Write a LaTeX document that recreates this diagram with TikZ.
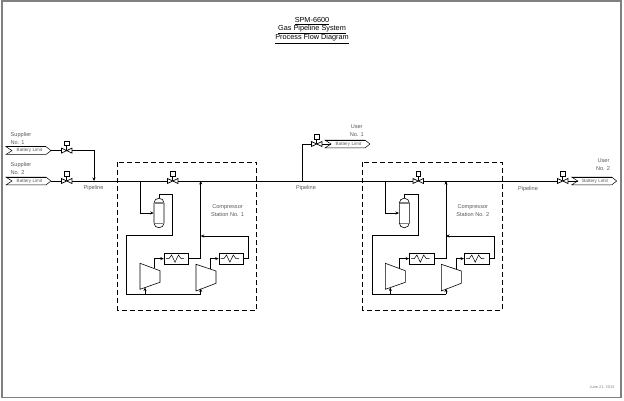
\documentclass[tikz,border=0pt]{standalone}
\usepackage{fontspec}
\setmainfont{Liberation Sans}
\usetikzlibrary{arrows.meta,calc}
\definecolor{lab}{gray}{0.35}
\tikzset{
 x=1pt,y=-1pt,
 pipe/.style={line width=0.7pt,black},
 flow/.style={pipe,-{Stealth[length=3.5pt,width=3pt]}},
 lbl/.style={font=\fontsize{5.6}{6}\selectfont,text=lab,inner sep=0pt,align=center},
 lblL/.style={lbl,anchor=west},
 tag/.style={font=\fontsize{4.6}{5}\selectfont,text=lab,inner sep=0pt},
 ttl/.style={font=\fontsize{7.3}{8}\selectfont,inner sep=0pt},
 hxbox/.style={draw,line width=0.7pt,minimum width=24.5pt,minimum height=10.5pt,inner sep=0pt},
 drum/.style={draw,line width=0.6pt,rounded corners=4.8pt,minimum width=10pt,minimum height=29.5pt,inner sep=0pt},
 actu/.style={draw,line width=0.5pt,minimum width=4.5pt,minimum height=4.5pt,inner sep=0pt},
 stationbox/.style={draw,line width=0.7pt,dash pattern=on 5pt off 3pt},
}
% valve: #1 name, #2 position
\newcommand{\vlv}[2]{%
 \coordinate (#1) at (#2);
 \coordinate (#1w) at ($(#1)+(-5.3,0)$);
 \coordinate (#1e) at ($(#1)+(5.3,0)$);
 \node[actu] (#1a) at ($(#1)+(0,-7.2)$) {};
 \draw[line width=0.5pt] (#1a.south) -- (#1);
 \filldraw[fill=white,line width=0.7pt] (#1w)++(0,-2.5) -- ++(10.6,5) -- ++(0,-5) -- ++(-10.6,5) -- cycle;
}
% battery-limit tag: #1 name, #2 left x, #3 centre y
\newcommand{\bltag}[3]{%
 \node[tag] (#1) at ($(#2,#3)+(23.5,0)$) {Battery Limit};
 \coordinate (#1w) at (#2+6,#3);
 \coordinate (#1e) at (#2+45,#3);
 \draw[line width=0.5pt] (#2,#3-3.9) -- (#2+40,#3-3.9) -- (#1e) -- (#2+40,#3+3.9) -- (#2,#3+3.9) -- (#1w) -- cycle;
 \draw[line width=1pt] (#2,#3-3.9) -- (#2+40,#3-3.9);
}
% compressor outline: #1 left x, #2 top-left y, #3 bottom-left y, #4 top-right y, #5 bottom-right y
\newcommand{\comp}[5]{%
 \draw[line width=0.6pt] (#1,#2) -- (#1+20,#4) -- (#1+20,#5) -- (#1,#3) -- cycle;
}
\newcommand{\hxz}[1]{%
 \draw[line width=0.5pt] ($(#1.west)+(2,0)$) -- ++(3.2,0) -- ++(2.6,-3.6) -- ++(3.4,7.2) -- ++(3.4,-7.2) -- ++(2.6,3.6) -- ++(3.2,0);
}
% compressor station at x offset #2
\newcommand{\station}[3]{%
 \begin{scope}[shift={(#2,0)}]
 \draw[stationbox] (117.3,162.3) rectangle (256.7,310);
 \node[drum] (#1v) at (159,213) {};
 \draw[line width=1.2pt,gray] (154.5,203) -- (163.5,203) (154.5,223.5) -- (163.5,223.5);
 \node[hxbox] (#1h) at (176.4,258.6) {};
 \node[hxbox] (#1k) at (231.3,258.6) {};
 \hxz{#1h}\hxz{#1k}
 \comp{140}{263.3}{289.3}{270.7}{282.3}
 \comp{196}{264.3}{291}{271}{283.3}
 \coordinate (#1m) at (140,181);
 \coordinate (#1n) at (200.7,181);
 \coordinate (#1p) at (200.7,236);
 \coordinate (#1i) at (145,287.5);
 \coordinate (#1j) at (200.7,288.5);
 \coordinate (#1q) at (154.4,268);
 \coordinate (#1r) at (210.7,269);
 \draw[flow] (#1m) |- (#1v.west);
 \draw[pipe] (#1v.north) -- (159,194.3) -- (172.7,194.3) -- (172.7,235.7) -- (126.7,235.7) -- (126.7,294.3) -- (200.7,294.3);
 \draw[flow] (200.7,294.3) -- (#1j);
 \draw[flow] (145,294.3) -- (#1i);
 \draw[flow] (#1q) |- (#1h.west);
 \draw[flow] (#1h.east) -| (#1n);
 \draw[flow] (#1r) |- (#1k.west);
 \draw[flow] (#1k.east) -- (248.7,258.6) |- (#1p);
 \node[lbl] (#1t) at (227.5,210.3) {Compressor\\[1.8pt]Station No. #3};
 \end{scope}
}
\begin{document}
\begin{tikzpicture}
\useasboundingbox (0,0) rectangle (624,401);
\draw[line width=1.8pt,black!50] (2,1) rectangle (621,397.5);
% title
\node[ttl] (t1) at (312,21) {\underline{SPM-6600}};
\node[ttl] (t2) at (312,29.8) {\underline{Gas Pipeline System}};
\node[ttl] (t3) at (312,39) {\underline{Process Flow Diagram}};
% main header
\coordinate (jc) at (94,181);
\coordinate (ub) at (302.3,181);
\bltag{s1}{6}{150.6}
\bltag{s2}{6}{181}
\bltag{u1}{325}{144}
\bltag{u2}{571.7}{181}
\vlv{v1}{66.7,150.6}
\vlv{v2}{66.7,181}
\vlv{v3}{316.7,144}
\vlv{v4}{562.7,181}
\vlv{v5}{172.7,181}
\vlv{v6}{418.2,181}
\draw[pipe] (s1e) -- (v1w);
\draw[flow] (v1e) -| (jc);
\draw[pipe] (s2e) -- (v2w);
\draw[pipe] (v2e) -- (v5w);
\draw[pipe] (v5e) -- (v6w);
\draw[pipe] (v6e) -- (v4w);
\draw[pipe] (ub) |- (v3w);
\draw[pipe] (v3e) -- (u1w);
\draw[pipe] (v4e) -- (u2w);
\station{a}{0}{1}
\station{b}{245.3}{2}
\node[lblL] (ls1) at (10.5,135) {Supplier};
\node[lblL] (ls1b) at (10.5,142.4) {No. 1};
\node[lblL] (ls2) at (10.5,165) {Supplier};
\node[lblL] (ls2b) at (10.5,172.6) {No. 2};
\node[lbl] (lu1) at (356.7,126.7) {User};
\node[lbl] (lu1b) at (356.7,134.2) {No. 1};
\node[lbl] (lu2) at (603.5,161) {User};
\node[lbl] (lu2b) at (603,169) {No. 2};
\node[lbl] (p1) at (93.5,188) {Pipeline};
\node[lbl] (p2) at (306,188) {Pipeline};
\node[lbl] (p3) at (528,189) {Pipeline};
\node[font=\fontsize{3.9}{4}\selectfont,inner sep=0pt,text=black!50] (dt) at (602,387.5) {June 21, 2013};
\end{tikzpicture}
\end{document}
